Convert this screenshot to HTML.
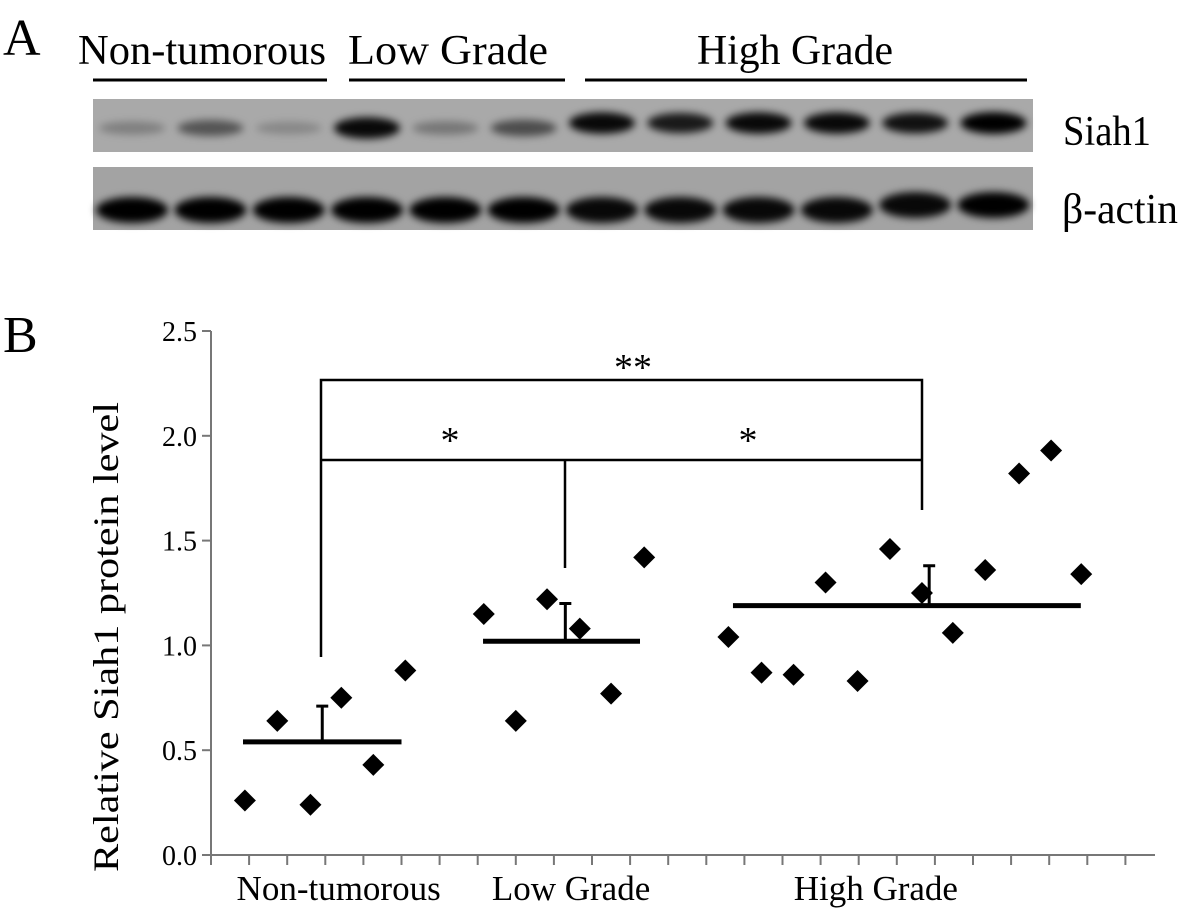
<!DOCTYPE html>
<html><head><meta charset="utf-8"><style>
body{margin:0;background:#fff;width:1181px;height:916px;overflow:hidden}
svg text{font-family:"Liberation Serif",serif;fill:#000}
</style></head><body>
<svg width="1181" height="916" viewBox="0 0 1181 916">
<defs>
<filter id="blur" x="-30%" y="-100%" width="160%" height="300%"><feGaussianBlur stdDeviation="4"/></filter>
</defs>
<g id="panelA">
<text x="3" y="55" font-size="52">A</text>
<text x="78" y="64" font-size="42" textLength="248" lengthAdjust="spacingAndGlyphs">Non-tumorous</text>
<text x="348" y="64" font-size="42" textLength="200" lengthAdjust="spacingAndGlyphs">Low Grade</text>
<text x="697" y="64" font-size="42" textLength="196" lengthAdjust="spacingAndGlyphs">High Grade</text>
<line x1="93" y1="80" x2="327" y2="80" stroke="#000" stroke-width="3"/>
<line x1="349" y1="80" x2="565" y2="80" stroke="#000" stroke-width="3"/>
<line x1="585" y1="80" x2="1027" y2="80" stroke="#000" stroke-width="3"/>
<rect x="93" y="99" width="940" height="53" fill="#a9a9a9"/>
<rect x="93" y="167" width="940" height="63" fill="#a3a3a3"/>
<g id="bands"></g>
<text x="1063" y="145" font-size="42" textLength="88" lengthAdjust="spacingAndGlyphs">Siah1</text>
<text x="1062" y="223" font-size="42" textLength="116" lengthAdjust="spacingAndGlyphs">β-actin</text>
</g>
<g id="panelB">
<text x="3" y="352" font-size="52">B</text>
<text transform="translate(118,637) rotate(-90)" text-anchor="middle" font-size="36" textLength="470" lengthAdjust="spacingAndGlyphs">Relative Siah1 protein level</text>
<g id="axes"></g>
<g id="marks"></g>
</g>
</svg>
<script>
const ns="http://www.w3.org/2000/svg";
const yTicks=[0,0.5,1.0,1.5,2.0,2.5];
const yTickLabels=["0.0","0.5","1.0","1.5","2.0","2.5"];
const categories=["Non-tumorous","Low Grade","High Grade"];
const catLabelPos=[3.35,9.45,17.45];
const ntX=[0.89,1.74,2.61,3.42,4.26,5.1];
const ntY=[0.26,0.64,0.24,0.75,0.43,0.88];
const lgX=[7.16,8.0,8.82,9.68,10.5,11.37];
const lgY=[1.15,0.64,1.22,1.08,0.77,1.42];
const hgX=[13.58,14.45,15.29,16.13,16.97,17.82,18.66,19.47,20.32,21.21,22.05,22.84];
const hgY=[1.04,0.87,0.86,1.30,0.83,1.46,1.25,1.06,1.36,1.82,1.93,1.34];
const meanVals=[0.54,1.02,1.19];
const meanStart=[0.84,7.14,13.7];
const meanEnd=[5.0,11.26,22.83];
const errX=[2.92,9.3,18.85];
const errTop=[0.71,1.20,1.38];
const siahIntensity=[0.25,0.5,0.2,0.95,0.3,0.55,0.95,0.85,0.95,0.95,0.9,1];
const actinIntensity=[1,1,1,1,1,1,0.95,0.95,0.95,0.95,0.95,1];
const nTicks=25;
function X(v){return 211+v*38.1;}
function Y(v){return 855-v*209.6;}
function mk(tag,attrs,parent){const e=document.createElementNS(ns,tag);for(const k in attrs)e.setAttribute(k,attrs[k]);parent.appendChild(e);return e;}
const bands=document.getElementById('bands');
siahIntensity.forEach((v,i)=>{const cx=93+78.3*(i+0.5);
 const e=mk('ellipse',{cx:cx,cy:i>=6?123:128,rx:33,ry:5+6*v,fill:'#000','fill-opacity':v,filter:'url(#blur)'},bands);
 
 });
actinIntensity.forEach((v,i)=>{const cx=93+78.3*(i+0.5);
 const e=mk('ellipse',{cx:cx,cy:i>=10?205:210,rx:36,ry:13,fill:'#000','fill-opacity':v,filter:'url(#blur)'},bands);
 
 });
const ax=document.getElementById('axes');
let l=mk('line',{x1:211,y1:Y(2.5),x2:211,y2:Y(0),stroke:'#777','stroke-width':2},ax);


l=mk('line',{x1:211,y1:Y(0),x2:1155,y2:Y(0),stroke:'#777','stroke-width':2},ax);


yTicks.forEach((t,i)=>{mk('line',{x1:202,y1:Y(t),x2:211,y2:Y(t),stroke:'#777','stroke-width':2},ax);
 const tx=mk('text',{x:197,y:Y(t)+10,'text-anchor':'end','font-size':28},ax);tx.textContent=yTickLabels[i];
 
 });
for(let i=0;i<nTicks;i++){mk('line',{x1:X(i),y1:Y(0),x2:X(i),y2:Y(0)+10,stroke:'#777','stroke-width':2},ax);}
categories.forEach((c,i)=>{const t=mk('text',{x:X(catLabelPos[i]),y:900,'text-anchor':'middle','font-size':35},ax);t.textContent=c;
 
 });
const mg=document.getElementById('marks');
function pts(xs,ys,name){xs.forEach((x,i)=>{const cx=X(x),cy=Y(ys[i]);
 const p=mk('polygon',{points:`${cx},${cy-11} ${cx+11},${cy} ${cx},${cy+11} ${cx-11},${cy}`,fill:'#000'},mg);
 
 });}
pts(ntX,ntY,'non-tumorous-point');pts(lgX,lgY,'low-grade-point');pts(hgX,hgY,'high-grade-point');
meanVals.forEach((m,i)=>{const a=mk('line',{x1:X(meanStart[i]),y1:Y(m),x2:X(meanEnd[i]),y2:Y(m),stroke:'#000','stroke-width':5},mg);
 
 
 const e=mk('path',{d:`M${X(errX[i])},${Y(m)} V${Y(errTop[i])} M${X(errX[i])-6},${Y(errTop[i])} H${X(errX[i])+6}`,stroke:'#000','stroke-width':3,fill:'none'},mg);
 
 });
const b1=mk('path',{d:`M321,657 V380 H922 V510`,stroke:'#000','stroke-width':2.5,fill:'none'},mg);


const b2=mk('path',{d:`M321,460 H922 M565,460 V568`,stroke:'#000','stroke-width':2.5,fill:'none'},mg);


[[633,380,'**','star-nt-hg'],[450,453,'*','star-nt-lg'],[748,453,'*','star-lg-hg']].forEach(s=>{const t=mk('text',{x:s[0],y:s[1],'text-anchor':'middle','font-size':38,'font-family':'Liberation Sans, sans-serif'},mg);t.textContent=s[2];
 
 });
</script>
</body></html>
